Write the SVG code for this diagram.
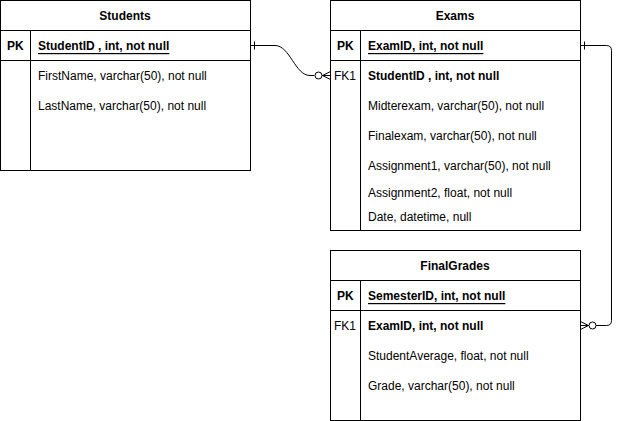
<svg xmlns="http://www.w3.org/2000/svg" width="620" height="421" viewBox="0 0 620 421">
<style>
.box{fill:#fff;stroke:#000;stroke-width:1}
.ln{stroke:#000;stroke-width:1;fill:none}
text{font-family:"Liberation Sans",Arial,sans-serif;font-size:12px;fill:#000;dominant-baseline:central}
.h{font-weight:bold;text-anchor:middle}
.k{font-weight:bold}
.u{text-decoration:underline}
</style>
<rect width="620" height="421" fill="#fff"/>
<g id="students">
<rect class="box" x="0.5" y="0.5" width="250" height="170"/>
<path class="ln" d="M0.5 30.5H250.5M0.5 60.5H250.5M30.5 30.5V170.5"/>
<text class="h" x="125" y="16">Students</text>
<text class="k" x="7" y="46">PK</text>
<text class="k u" x="38" y="46">StudentID , int, not null</text>
<text x="38" y="76">FirstName, varchar(50), not null</text>
<text x="38" y="106">LastName, varchar(50), not null</text>
</g>
<g id="exams">
<rect class="box" x="330.5" y="0.5" width="250" height="230"/>
<path class="ln" d="M330.5 30.5H580.5M330.5 60.5H580.5M360.5 30.5V230.5"/>
<text class="h" x="455" y="16">Exams</text>
<text class="k" x="337" y="46">PK</text>
<text class="k u" x="368" y="46">ExamID, int, not null</text>
<text x="334" y="76">FK1</text>
<text class="k" x="368" y="76">StudentID , int, not null</text>
<text x="368" y="106">Midterexam, varchar(50), not null</text>
<text x="368" y="136">Finalexam, varchar(50), not null</text>
<text x="368" y="166">Assignment1, varchar(50), not null</text>
<text x="368" y="193">Assignment2, float, not null</text>
<text x="368" y="217">Date, datetime, null</text>
</g>
<g id="finalgrades">
<rect class="box" x="330.5" y="250.5" width="250" height="170"/>
<path class="ln" d="M330.5 280.5H580.5M330.5 310.5H580.5M360.5 280.5V420.5"/>
<text class="h" x="455" y="266">FinalGrades</text>
<text class="k" x="337" y="296">PK</text>
<text class="k u" x="368" y="296">SemesterID, int, not null</text>
<text x="334" y="326">FK1</text>
<text class="k" x="368" y="326">ExamID, int, not null</text>
<text x="368" y="356">StudentAverage, float, not null</text>
<text x="368" y="386">Grade, varchar(50), not null</text>
</g>
<g id="connectors">
<path class="ln" d="M250.5 45.5H275C290 45.5 295 75.5 310 75.5H314.5"/>
<path class="ln" d="M254.5 41.5V49.5"/>
<circle class="ln" cx="318.5" cy="75.5" r="3.5" fill="#fff"/>
<path class="ln" d="M330.5 71.5L322.5 75.5L330.5 79.5M322.5 75.5H330.5"/>
<path class="ln" d="M580.5 45.5H606.5Q611.5 45.5 611.5 50.5V320.5Q611.5 325.5 606.5 325.5H596"/>
<path class="ln" d="M584.5 41.5V49.5"/>
<circle class="ln" cx="592.5" cy="325.5" r="3.5" fill="#fff"/>
<path class="ln" d="M580.5 321.5L588.5 325.5L580.5 329.5M588.5 325.5H580.5"/>
</g>
</svg>
